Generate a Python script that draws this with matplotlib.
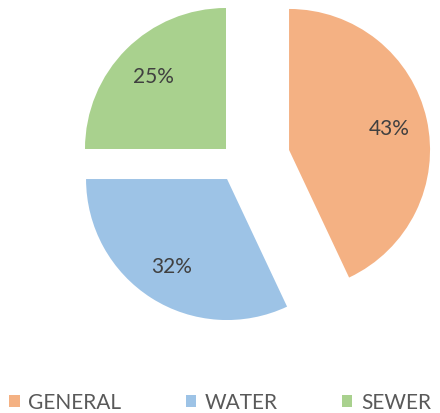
import matplotlib
matplotlib.use("Agg")
import matplotlib.pyplot as plt
from matplotlib.patches import Patch

categories = ["GENERAL", "WATER", "SEWER"]
values = [43, 32, 25]
colors = ["#F4B183", "#9DC3E6", "#A9D18E"]
explode = [52, 21, 17.4]

W, H = 440, 414
fig = plt.figure(figsize=(W / 100, H / 100), dpi=100)
ax = fig.add_axes([0, 0, 1, 1])

center = (238.3, H - 162.3)
radius = 141

wedges, texts, autotexts = ax.pie(
    values, colors=colors, explode=explode, startangle=90, counterclock=False,
    center=center, radius=radius, autopct="%d%%", pctdistance=0.73,
    textprops=dict(fontsize=15, color="#404040", family="Lato"),
    wedgeprops=dict(linewidth=0),
)
ax.set_xlim(0, W)
ax.set_ylim(0, H)
ax.set_aspect("equal")
ax.axis("off")

handles = [Patch(facecolor=c, edgecolor="none") for c in colors]
leg = fig.legend(handles, categories, loc="center", bbox_to_anchor=(0.5, 11 / H),
                 ncol=3, frameon=False, handlelength=0.5, handleheight=0.5,
                 handletextpad=0.4, columnspacing=3.1, borderpad=0, borderaxespad=0,
                 prop=dict(family="Lato", size=15))
for t in leg.get_texts():
    t.set_color("#595959")

fig.savefig("out.png", dpi=100)
